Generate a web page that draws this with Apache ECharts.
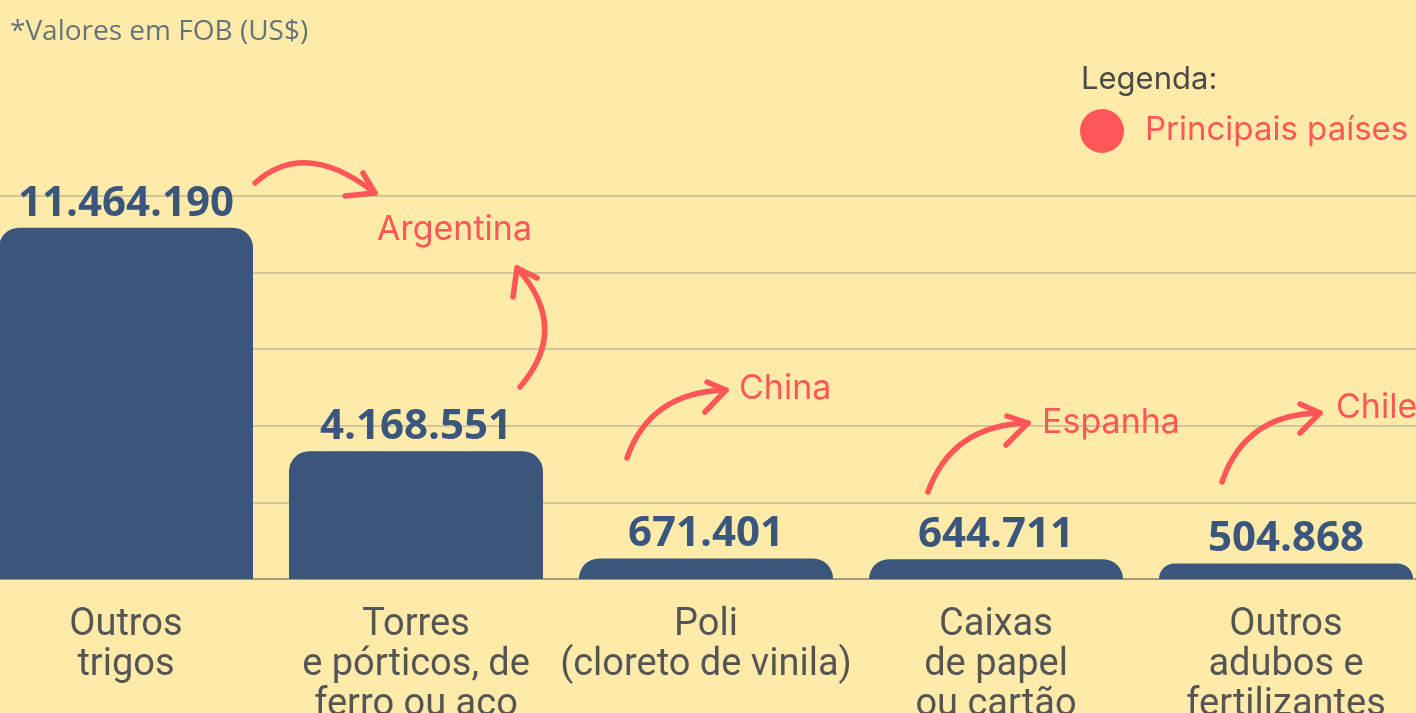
<!DOCTYPE html>
<html><head><meta charset="utf-8">
<script src="https://cdn.jsdelivr.net/npm/echarts@6/dist/echarts.min.js"></script>
<style>html,body{margin:0;padding:0;background:#FEEBA9;}#c{width:1416px;height:713px;}</style>
</head><body><div id="c"></div>
<script>
const categories = ["Outros\ntrigos", "Torres\ne pórticos, de\nferro ou aço", "Poli\n(cloreto de vinila)", "Caixas\nde papel\nou cartão", "Outros\nadubos e\nfertilizantes"];
const values = [11464190, 4168551, 671401, 644711, 504868];
const countries = ["Argentina", "China", "Espanha", "Chile"];
const note = "*Valores em FOB (US$)";
const legendTitle = "Legenda:";
const legendItem = "Principais países";

const RED = "#FF5757";
function fmt(v){ return String(v).replace(/\B(?=(\d{3})+(?!\d))/g, "."); }

const chart = echarts.init(document.getElementById('c'), null, {renderer:'canvas'});

function arrow(p0, cp, p1, a1, a2){
  return [
    {type:'bezierCurve', shape:{x1:p0[0],y1:p0[1],cpx1:cp[0],cpy1:cp[1],x2:p1[0],y2:p1[1]}, style:{stroke:RED,lineWidth:5.5,fill:null,lineCap:'round'}, z:10},
    {type:'polyline', shape:{points:[a1,p1,a2]}, style:{stroke:RED,lineWidth:5.5,fill:null,lineCap:'round',lineJoin:'round'}, z:10}
  ];
}

const graphics = [
  {type:'text', left:10, top:18, style:{text:note, font:'28px "Open Sans"', fill:'#66737A'}},
  {type:'text', left:1081, top:64, style:{text:legendTitle, font:'31px Inter', fill:'#4A4A4A'}},
  {type:'circle', shape:{cx:1102, cy:131, r:22}, style:{fill:RED}},
  {type:'text', left:1145, top:114, style:{text:legendItem, font:'33px Inter', fill:RED}},
  {type:'text', left:377, top:213, style:{text:countries[0], font:'34px Inter', fill:RED}, z:10},
  {type:'text', left:739, top:372, style:{text:countries[1], font:'34px Inter', fill:RED}, z:10},
  {type:'text', left:1042, top:406, style:{text:countries[2], font:'34px Inter', fill:RED}, z:10},
  {type:'text', left:1336, top:391, style:{text:countries[3], font:'34px Inter', fill:RED}, z:10}
].concat(
  arrow([255,183],[305,138],[375,193],[363,173],[345,196]),
  arrow([520,387],[571,328],[517,268],[513,297],[537,278]),
  arrow([627,458],[650,392],[726,390],[707,382],[705,412]),
  arrow([928,492],[952,425],[1028,423],[1007,416],[1006,445]),
  arrow([1222,482],[1245,414],[1320,413],[1300,404],[1300,433])
);

chart.setOption({
  backgroundColor:'#FEEBA9',
  animation:false,
  grid:{left:-19, right:-15, top:196, bottom:134, containLabel:false, outerBoundsMode:'none'},
  xAxis:{
    type:'category', data:categories,
    axisLine:{show:true, lineStyle:{color:'#A09A7E', width:2}},
    axisTick:{show:false},
    axisLabel:{interval:0, margin:26, lineHeight:40, fontSize:38, color:'#555555', fontFamily:'Roboto'}
  },
  yAxis:{
    type:'value', min:0, max:12500000, interval:2500000,
    axisLabel:{show:false}, axisLine:{show:false}, axisTick:{show:false},
    splitLine:{show:true, lineStyle:{color:'#D2C698', width:2}}
  },
  series:[{
    type:'bar', data:values, barWidth:254,
    itemStyle:{color:'#3A567D', borderRadius:[20,20,0,0]},
    label:{show:true, position:'top', distance:3, formatter:p=>fmt(p.value),
      fontFamily:'"Open Sans"', fontWeight:'bold', fontSize:42, color:'#3A567D'}
  }],
  graphic:graphics
});
</script></body></html>
